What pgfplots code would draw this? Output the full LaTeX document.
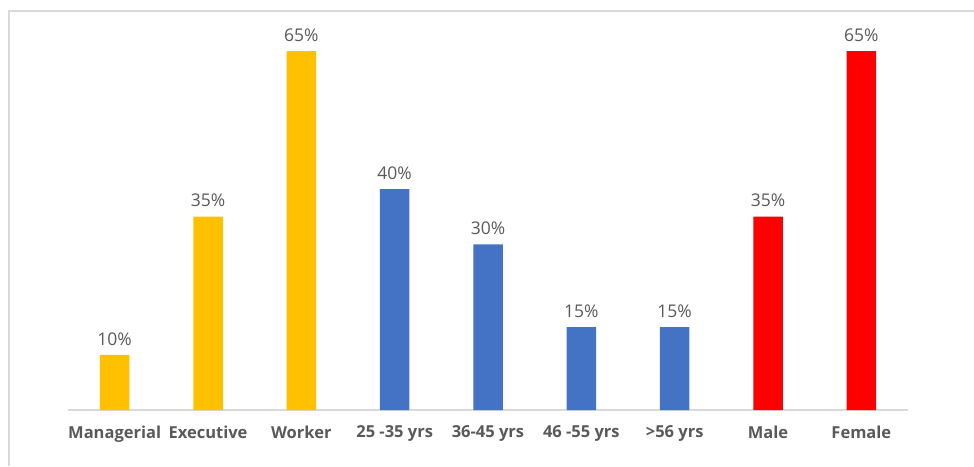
\documentclass[border=0pt]{standalone}
\usepackage{pgfplots}
\pgfplotsset{compat=1.18}
\usepackage{fontspec}
\setmainfont{Open Sans}
\definecolor{cy}{HTML}{FFC000}
\definecolor{cb}{HTML}{4472C4}
\definecolor{cr}{HTML}{FF0000}
\definecolor{txt}{HTML}{595959}
\definecolor{fr}{HTML}{D9D9D9}
\begin{document}
\begin{tikzpicture}[x=1pt,y=1pt]
\path[use as bounding box] (0,0) rectangle (974,466);
\draw[fr, line width=2.2pt] (9,0) -- (9,455) -- (974,455);
\begin{axis}[
  at={(68pt,56pt)}, anchor=south west,
  scale only axis, width=840pt, height=386.6pt,
  xmin=-0.5, xmax=8.5, ymin=0, ymax=70,
  axis x line*=bottom, axis y line=none,
  axis line style={fr, line width=1.5pt},
  ytick=\empty,
  xtick={0,...,8},
  xticklabels={Managerial,Executive,Worker,25 -35 yrs,36-45 yrs,46 -55 yrs,>56 yrs,Male,Female},
  major tick length=0pt,
  xticklabel style={font=\fontsize{16.5}{18}\selectfont\bfseries, text=txt, yshift=-12pt},
  /pgf/number format/assume math mode=true,
  ybar, bar shift=0pt, bar width=29.5pt,
  nodes near coords={\pgfmathprintnumber{\pgfplotspointmeta}\%},
  every node near coord/.append style={font=\fontsize{17.5}{19}\selectfont, text=txt, yshift=6pt},
  clip=false,
]
\addplot[draw=none, fill=cy] coordinates {(0,10) (1,35) (2,65)};
\addplot[draw=none, fill=cb] coordinates {(3,40) (4,30) (5,15) (6,15)};
\addplot[draw=none, fill=cr] coordinates {(7,35) (8,65)};
\end{axis}
\end{tikzpicture}
\end{document}
